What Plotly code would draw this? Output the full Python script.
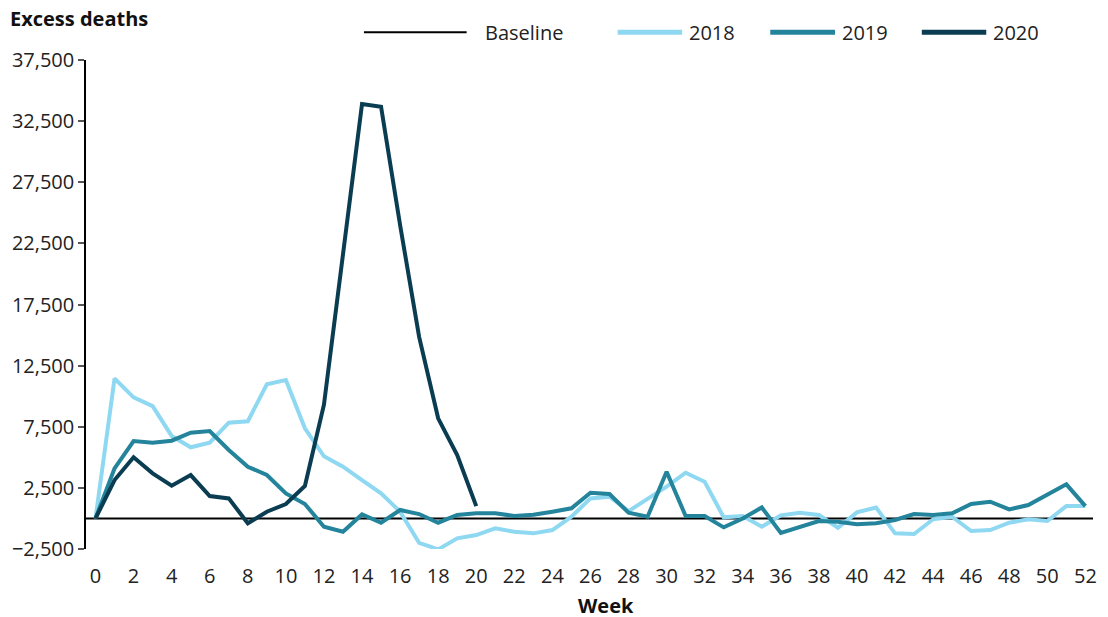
import plotly.graph_objects as go

weeks = list(range(0, 53))

excess_2018 = [0, 11450, 9900, 9190, 6750, 5820, 6200, 7830, 7950, 10970,
               11320, 7370, 5080, 4230, 3140, 2050, 550, -1990, -2530, -1630,
               -1360, -810, -1090, -1220, -950, 140, 1640, 1780, 600, 1560,
               2600, 3740, 3000, 90, 200, -680, 250, 470, 280, -760,
               500, 900, -1220, -1280, -70, 140, -1030, -950, -350, -70,
               -210, 1010, 1010]

excess_2019 = [0, 4100, 6330, 6190, 6360, 7010, 7150, 5600, 4230, 3550,
               2050, 1180, -680, -1090, 330, -350, 690, 360, -350, 280,
               420, 420, 200, 300, 550, 830, 2100, 2000, 470, 140,
               3820, 200, 200, -730, 0, 900, -1190, -680, -210, -270,
               -480, -400, -130, 360, 280, 420, 1180, 1370, 740, 1100,
               1920, 2790, 1010]

weeks_2020 = list(range(0, 21))
excess_2020 = [0, 3140, 5000, 3690, 2680, 3550, 1830, 1640, -400, 550,
               1180, 2650, 9300, 21800, 33900, 33680, 24000, 14850, 8190, 5190,
               1010]

y_ticks = [-2500, 2500, 7500, 12500, 17500, 22500, 27500, 32500, 37500]
x_ticks = list(range(0, 53, 2))

c2018 = "#8fd8f1"
c2019 = "#23849b"
c2020 = "#0b3d52"
FONT = "Open Sans"
FS = 20

fig = go.Figure()
fig.add_trace(go.Scatter(x=weeks, y=excess_2018, mode="lines", name="2018",
                         line=dict(color=c2018, width=4)))
fig.add_trace(go.Scatter(x=weeks, y=excess_2019, mode="lines", name="2019",
                         line=dict(color=c2019, width=4)))
fig.add_trace(go.Scatter(x=weeks_2020, y=excess_2020, mode="lines", name="2020",
                         line=dict(color=c2020, width=4)))

shapes = [
    dict(type="line", xref="paper", yref="y", x0=0, x1=1, y0=0, y1=0,
         line=dict(color="black", width=2), layer="below"),
]
annotations = [
    dict(text="<b>Excess deaths</b>", xref="paper", yref="paper", x=-0.077, y=1.084,
         xanchor="left", yanchor="middle", showarrow=False,
         font=dict(family=FONT, size=FS, color="#111")),
    dict(text="<b>Week</b>", xref="paper", yref="paper", x=0.516, y=-0.115,
         xanchor="center", yanchor="middle", showarrow=False,
         font=dict(family=FONT, size=FS, color="#111")),
]
legend_items = [
    ("Baseline", "black", 2, 0.276, 0.378, 0.394),
    ("2018", c2018, 5, 0.528, 0.592, 0.597),
    ("2019", c2019, 5, 0.6795, 0.7438, 0.7488),
    ("2020", c2020, 5, 0.830, 0.894, 0.899),
]
for name, col, w, x0, x1, xt in legend_items:
    shapes.append(dict(type="line", xref="paper", yref="paper", x0=x0, x1=x1,
                       y0=1.057, y1=1.057, line=dict(color=col, width=w)))
    annotations.append(dict(text=name, xref="paper", yref="paper", x=xt, y=1.057,
                            xanchor="left", yanchor="middle", showarrow=False,
                            font=dict(family=FONT, size=FS, color="#222")))

fig.update_layout(
    width=1108, height=617,
    margin=dict(l=86, r=11, t=60, b=68),
    paper_bgcolor="white", plot_bgcolor="white",
    showlegend=False,
    font=dict(family=FONT, size=FS, color="#222"),
    shapes=shapes, annotations=annotations,
    xaxis=dict(range=[-0.5, 52.4], tickvals=x_ticks, showgrid=False,
               zeroline=False, showline=False, ticks="",
               ticklabelstandoff=13,
               tickfont=dict(family=FONT, size=FS, color="#222")),
    yaxis=dict(range=[-2500, 37500], tickvals=y_ticks, tickformat=",",
               showgrid=False, zeroline=False, showline=True,
               linecolor="black", linewidth=1.5, ticks="outside", ticklen=6,
               tickcolor="#555", tickwidth=1.5,
               tickfont=dict(family=FONT, size=FS, color="#222")),
)

fig.write_html("out.html", config={"displayModeBar": False},
               post_script="document.body.style.margin='0';document.body.style.overflow='hidden';")
